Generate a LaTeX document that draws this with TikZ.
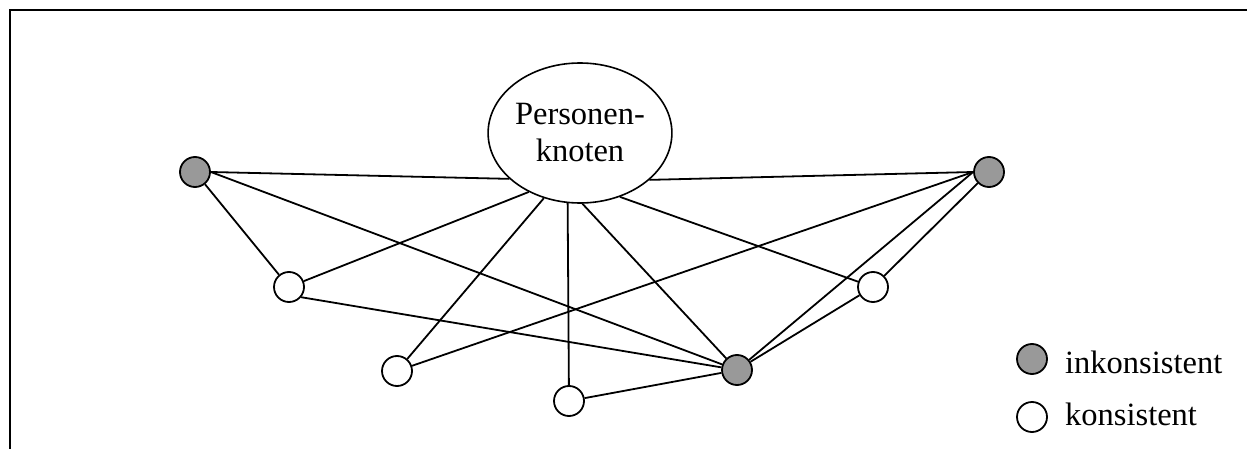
\documentclass[tikz,border=0pt]{standalone}
\usepackage{fontspec}
\setmainfont{Liberation Serif}
\usetikzlibrary{shapes.geometric}
\begin{document}
\begin{tikzpicture}[x=1pt,y=-1pt,
  every node/.style={font=\fontsize{32.5}{37}\selectfont},
  dot/.style={circle,draw,line width=1.8pt,minimum size=30pt,inner sep=0pt},
  bad/.style={dot,fill=gray!80},
  good/.style={dot,fill=white},
  edge/.style={line width=1.8pt},
  lbl/.style={anchor=base west,inner sep=0pt}]
\useasboundingbox (0,0) rectangle (1247,449);
\draw[line width=2.2pt] (10,449) -- (10,10) -- (1247,10);

\node[ellipse,draw,line width=1.6pt,minimum width=174pt,minimum height=140pt,inner sep=0pt,align=center] (E) at (580,133) {Personen-\\knoten};

\node[bad]  (G1) at (195,172) {};
\node[bad]  (G2) at (989,172) {};
\node[bad]  (G3) at (737,370) {};
\node[good] (W1) at (289,287) {};
\node[good] (W2) at (873,287) {};
\node[good] (W3) at (397,371) {};
\node[good] (W4) at (569,401) {};

\draw[edge] (G1.east) -- (E.213);
\draw[edge] (G1.east) -- (G3);
\draw[edge] (G1) -- (W1);
\draw[edge] (W1) -- (E.229);
\draw[edge] (W1.-40) -- (G3);
\draw[edge] (W3) -- (E.241);
\draw[edge] (W3) -- (G2.west);
\draw[edge] (W4) -- (E.260);
\draw[edge] (W4) -- (G3);
\draw[edge] (G3) -- (E.272);
\draw[edge] (W2) -- (E.302);
\draw[edge] (E.326) -- (G2.west);
\draw[edge] (G2.west) -- (G3);
\draw[edge] (G2) -- (W2);
\draw[edge] (W2) -- (G3);

\node[bad]  (L1) at (1032,359) {};
\node[good] (L2) at (1032,417) {};
\node[lbl] (T1) at (1065,373) {inkonsistent};
\node[lbl] (T2) at (1065,425) {konsistent};
\end{tikzpicture}
\end{document}
